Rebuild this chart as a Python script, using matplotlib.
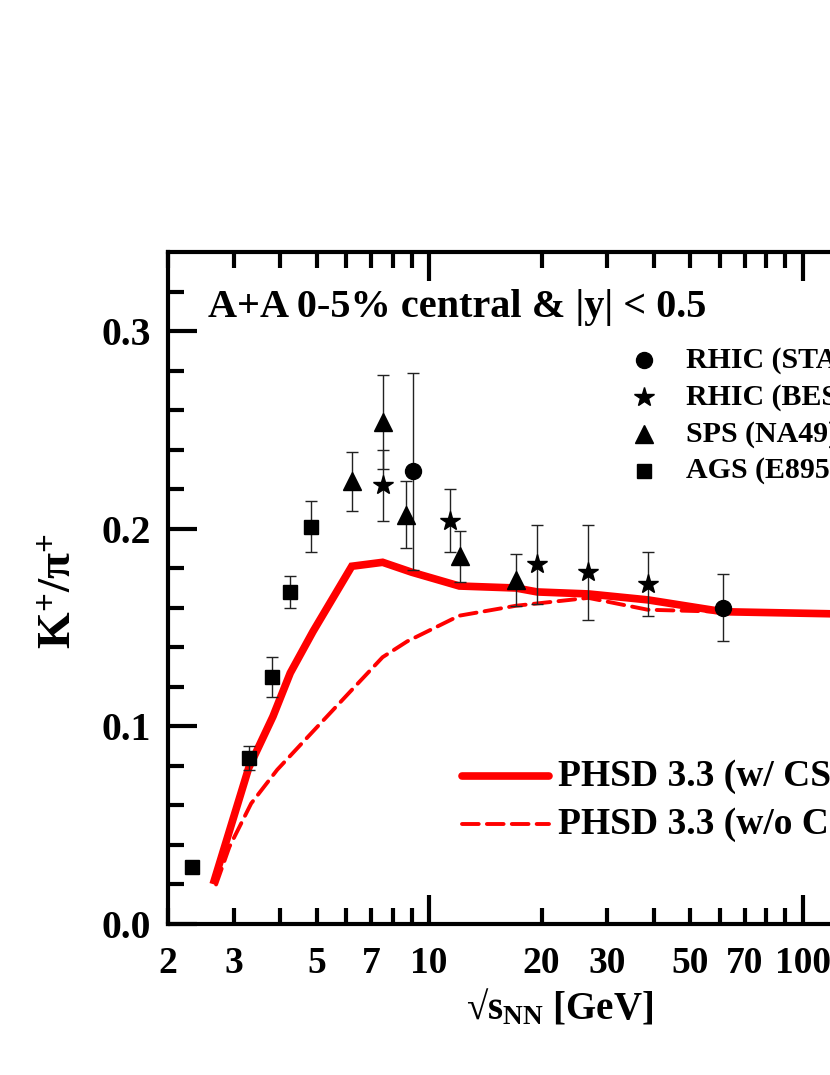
import matplotlib
matplotlib.use("Agg")
import matplotlib.pyplot as plt
from matplotlib.ticker import FixedLocator, FixedFormatter
from matplotlib.lines import Line2D

plt.rcParams['font.family'] = ['Liberation Serif', 'DejaVu Serif']
plt.rcParams['font.weight'] = 'bold'
plt.rcParams['mathtext.fontset'] = 'custom'
plt.rcParams['mathtext.rm'] = 'Liberation Serif:bold'
plt.rcParams['mathtext.it'] = 'Liberation Serif:bold'
plt.rcParams['mathtext.bf'] = 'Liberation Serif:bold'

# ---- data ----
ags_x = [2.32, 3.29, 3.79, 4.25, 4.82]
ags_y = [0.029, 0.084, 0.125, 0.168, 0.201]
ags_e = [0.003, 0.006, 0.010, 0.008, 0.013]

sps_x = [6.21, 7.51, 8.67, 12.13, 17.06]
sps_y = [0.224, 0.254, 0.207, 0.186, 0.174]
sps_e = [0.015, 0.024, 0.017, 0.013, 0.013]

bes_x = [7.55, 11.36, 19.5, 26.7, 38.5]
bes_y = [0.222, 0.204, 0.182, 0.178, 0.172]
bes_e = [0.018, 0.016, 0.020, 0.024, 0.016]

star_x = [9.05, 61.2]
star_y = [0.229, 0.160]
star_e = [0.050, 0.017]

csr_x = [2.66, 3.29, 3.82, 4.25, 4.89, 6.21, 7.51, 8.98, 12.05, 17.06, 19.5, 26.7, 38.5, 61.2, 116, 200]
csr_y = [0.022, 0.079, 0.105, 0.127, 0.148, 0.181, 0.183, 0.178, 0.171, 0.170, 0.168, 0.167, 0.164, 0.158, 0.157, 0.156]

nocsr_x = [2.69, 2.92, 3.34, 3.92, 4.92, 6.18, 7.51, 8.74, 12.05, 17.06, 26.7, 38.5, 61.2, 116, 200]
nocsr_y = [0.020, 0.039, 0.061, 0.078, 0.098, 0.118, 0.135, 0.143, 0.156, 0.161, 0.165, 0.159, 0.158, 0.157, 0.156]

xticks_major = [10, 100]
xticks_minor = [2, 3, 4, 5, 6, 7, 8, 9, 20, 30, 40, 50, 60, 70, 80, 90, 200]
xminor_labels = ['2', '3', '', '5', '', '7', '', '', '20', '30', '', '50', '', '70', '', '', '200']

W, H = 830, 1075
XMIN, XMAX = 2, 250
DEC = 373.5  # pixels per decade
fig = plt.figure(figsize=(W / 100, H / 100), dpi=100)
left, bottom, top = 168 / W, 1 - 924 / H, 1 - 252 / H
import math
right_px = 168 + math.log10(XMAX / XMIN) * DEC
ax = fig.add_axes([left, bottom, (right_px - 168) / W, top - bottom])

ax.set_xscale('log')
ax.set_xlim(XMIN, XMAX)
ax.set_ylim(0, 0.34)

ax.plot(csr_x, csr_y, color='#ff0000', lw=5.5, solid_joinstyle='miter', zorder=2)
ax.plot(nocsr_x, nocsr_y, color='#ff0000', lw=2.8, dashes=(4.3, 2.1),
        dash_capstyle='round', zorder=2)

ekw = dict(ecolor='#222222', elinewidth=1.0, capsize=4.5, capthick=1.0, color='black', ls='none', zorder=3)
ax.errorbar(ags_x, ags_y, yerr=ags_e, marker='s', ms=10, **ekw)
ax.errorbar(sps_x, sps_y, yerr=sps_e, marker='^', ms=13, **ekw)
ax.errorbar(bes_x, bes_y, yerr=bes_e, marker='*', ms=15, **ekw)
ax.errorbar(star_x, star_y, yerr=star_e, marker='o', ms=11.5, **ekw)

for s in ax.spines.values():
    s.set_linewidth(3)

ax.xaxis.set_major_locator(FixedLocator(xticks_major))
ax.xaxis.set_major_formatter(FixedFormatter([str(v) for v in xticks_major]))
ax.xaxis.set_minor_locator(FixedLocator(xticks_minor))
ax.xaxis.set_minor_formatter(FixedFormatter(xminor_labels))
ax.yaxis.set_major_locator(FixedLocator([0.0, 0.1, 0.2, 0.3]))
ax.yaxis.set_major_formatter(FixedFormatter(['0.0', '0.1', '0.2', '0.3']))
ax.yaxis.set_minor_locator(FixedLocator([0.02, 0.04, 0.06, 0.08, 0.12, 0.14, 0.16, 0.18,
                                         0.22, 0.24, 0.26, 0.28, 0.32]))

ax.tick_params(which='both', direction='in', top=True, right=True, width=3)
ax.tick_params(which='major', length=21)
ax.tick_params(which='minor', length=11.5)
ax.tick_params(axis='x', which='both', labelsize=27, pad=16)
ax.tick_params(axis='y', which='both', labelsize=28.5, pad=12)
for lab in ax.get_xticklabels(which='both') + ax.get_yticklabels():
    lab.set_fontweight('bold')

fig.text(560 / W, 1 - 1008 / H, '√$\\mathregular{s_{NN}}$ [GeV]', fontsize=28,
         fontweight='bold', ha='center', va='center')
fig.text(60 / W, 1 - 591 / H, r'$\mathregular{K^{+}/\pi^{+}}$', fontsize=34,
         rotation=90, ha='center', va='center')

fig.text(208 / W, 1 - 317 / H, 'A+A 0-5% central & |y| < 0.5', fontsize=29,
         fontweight='bold', ha='left', va='baseline')

# marker legend
leg_items = [('o', 11.5, 'RHIC (STAR)'), ('*', 15, 'RHIC (BES)'),
             ('^', 13, 'SPS (NA49)'), ('s', 10, 'AGS (E895)')]
for i, (m, ms, lab) in enumerate(leg_items):
    yy = 1 - (360 + 37 * i) / H
    fig.add_artist(Line2D([644 / W], [yy], marker=m, ms=ms, color='black', ls='none',
                          transform=fig.transFigure))
    fig.text(686 / W, yy, lab, fontsize=21.5, fontweight='bold', ha='left', va='center')

# line legend
for i, (lw, dash, lab) in enumerate([(5.5, None, 'PHSD 3.3 (w/ CSR)'),
                                     (2.8, (4.3, 2.1), 'PHSD 3.3 (w/o CSR)')]):
    yy = 1 - (776 + 48 * i) / H
    ln = Line2D([462 / W, 549 / W], [yy, yy], color='#ff0000', lw=lw,
                transform=fig.transFigure, solid_capstyle='round', dash_capstyle='round')
    if dash:
        ln.set_dashes(dash)
    fig.add_artist(ln)
    fig.text(558 / W, yy, lab, fontsize=27, fontweight='bold', ha='left', va='center')

fig.savefig('out.png', dpi=100)
